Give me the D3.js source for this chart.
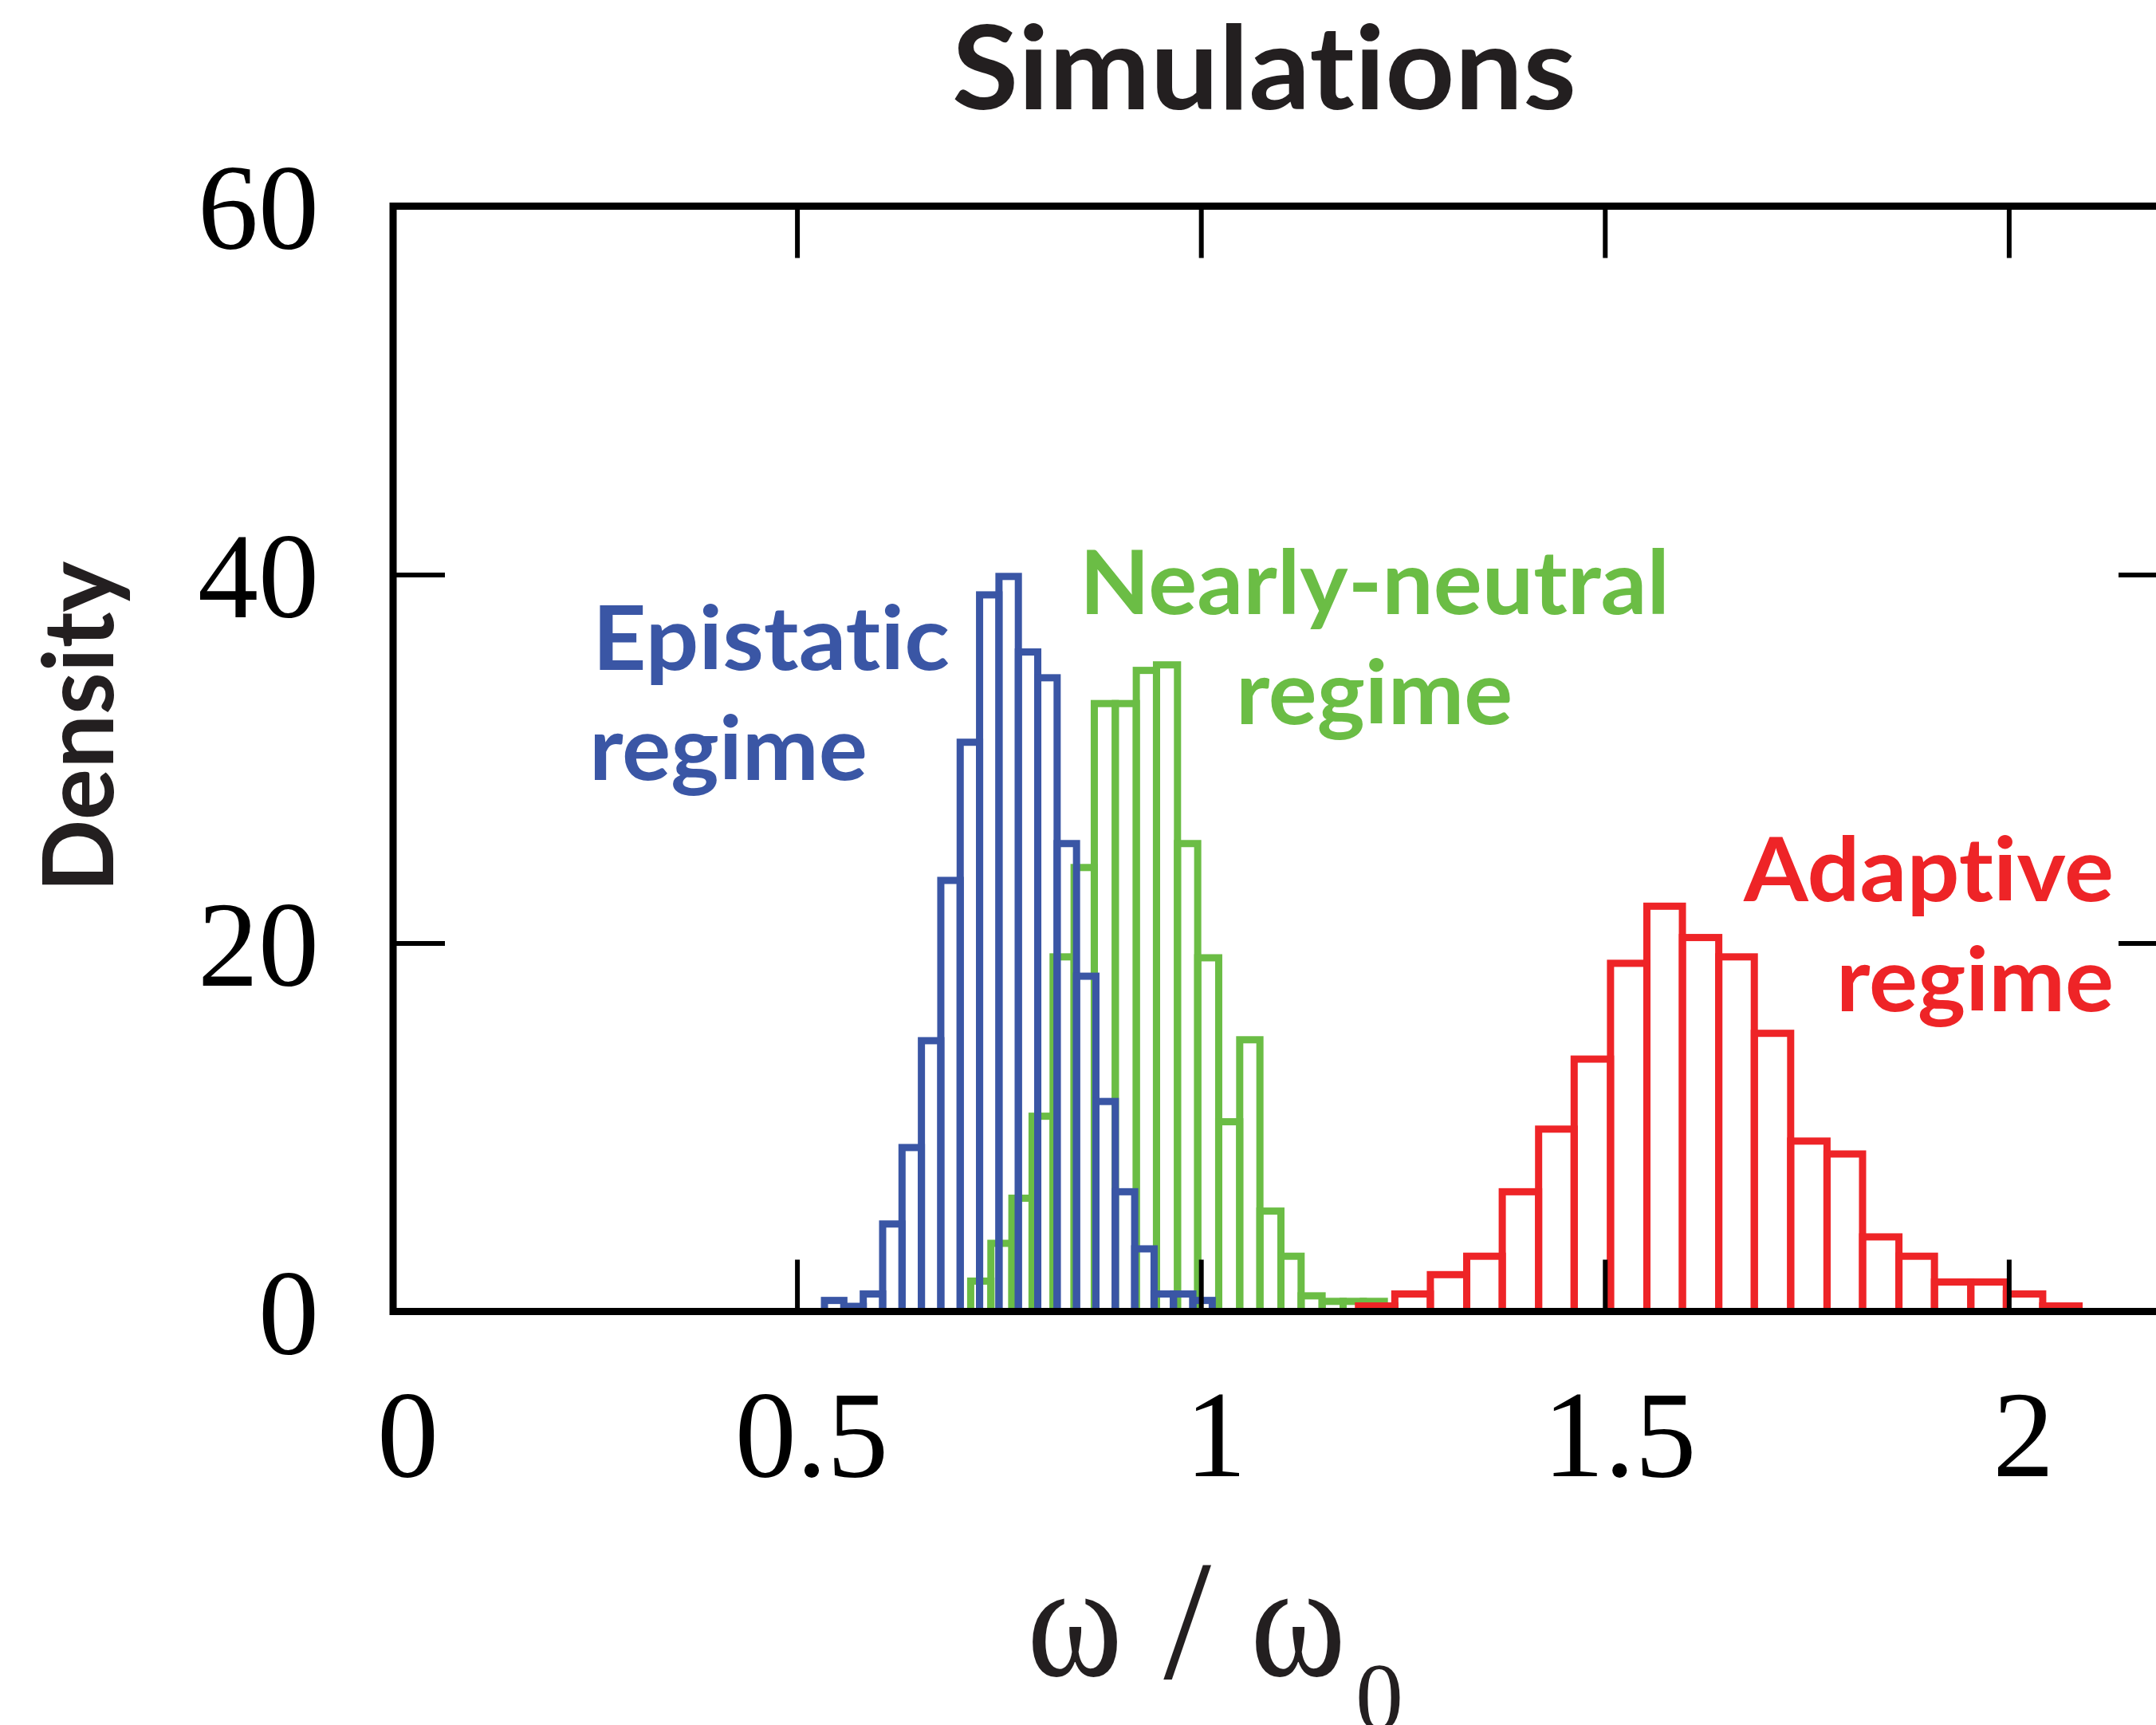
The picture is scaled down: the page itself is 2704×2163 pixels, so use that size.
<!DOCTYPE html>
<html>
<head>
<meta charset="utf-8">
<script src="https://cdn.jsdelivr.net/npm/d3@7"></script>
<style>
  html, body { margin: 0; padding: 0; background: #ffffff; }
  svg { display: block; }
  text { font-variant-ligatures: none; font-feature-settings: "liga" 0, "clig" 0; }
</style>
</head>
<body>
<div id="chart"></div>
<script>
// ---------- data ----------
const xTickValues = [0, 0.5, 1, 1.5, 2];
const xTickLabels = ["0", "0.5", "1", "1.5", "2"];
const yTickValues = [0, 20, 40, 60];
const yTickLabels = ["0", "20", "40", "60"];

// Epistatic regime (blue)
const epistaticEdges = [0.534, 0.558, 0.582, 0.606, 0.630, 0.654, 0.678, 0.702, 0.726, 0.750, 0.774,
                        0.798, 0.822, 0.846, 0.870, 0.894, 0.918, 0.942, 0.966, 0.990, 1.014];
const epistaticDensity = [0.6, 0.28, 0.95, 4.75, 8.9, 14.7, 23.4, 30.9, 38.9, 39.9,
                          35.8, 34.4, 25.4, 18.2, 11.4, 6.5, 3.4, 0.95, 0.95, 0.6];

// Nearly-neutral regime (green)
const neutralEdges = [0.715, 0.740, 0.766, 0.791, 0.817, 0.843, 0.868, 0.894, 0.920, 0.945, 0.971,
                      0.996, 1.022, 1.048, 1.073, 1.099, 1.124, 1.150, 1.176, 1.201, 1.227];
const neutralDensity = [1.65, 3.7, 6.15, 10.6, 19.25, 24.1, 33.0, 33.0, 34.8, 35.1,
                        25.4, 19.2, 10.3, 14.75, 5.45, 3.0, 0.85, 0.55, 0.55, 0.55];

// Adaptive regime (red)
const adaptiveEdges = [1.195, 1.240, 1.284, 1.329, 1.373, 1.418, 1.462, 1.507, 1.552, 1.596, 1.641,
                       1.685, 1.730, 1.775, 1.819, 1.864, 1.908, 1.953, 1.997, 2.042, 2.087];
const adaptiveDensity = [0.3, 0.95, 2.0, 3.0, 6.5, 9.9, 13.7, 18.9, 22.0, 20.3,
                         19.25, 15.1, 9.25, 8.55, 4.05, 3.0, 1.6, 1.6, 0.95, 0.3];

const seriesNames = ["Nearly-neutral", "Epistatic", "Adaptive"];

// ---------- layout ----------
const W = 2704, H = 2163;
const colors = { "Epistatic": "#3A56A5", "Nearly-neutral": "#6BBD45", "Adaptive": "#EE2427" };
const plot = { left: 493, right: 2722, top: 258.5, bottom: 1644.5 };

const svg = d3.select("#chart").append("svg")
  .attr("width", W).attr("height", H)
  .attr("viewBox", `0 0 ${W} ${H}`);

const x = d3.scaleLinear().domain([0, 2.2]).range([plot.left, plot.right]);
const y = d3.scaleLinear().domain([0, 60]).range([plot.bottom, plot.top]);

// ---------- histograms ----------
const seriesData = {
  "Epistatic": { edges: epistaticEdges, dens: epistaticDensity },
  "Nearly-neutral": { edges: neutralEdges, dens: neutralDensity },
  "Adaptive": { edges: adaptiveEdges, dens: adaptiveDensity }
};

seriesNames.forEach(name => {
  const s = seriesData[name];
  const bins = s.dens.map((d, i) => ({ x0: s.edges[i], x1: s.edges[i + 1], d }));
  svg.append("g").attr("class", "hist")
    .selectAll("rect").data(bins).join("rect")
    .attr("x", b => x(b.x0))
    .attr("width", b => x(b.x1) - x(b.x0))
    .attr("y", b => y(b.d))
    .attr("height", b => y(0) - y(b.d))
    .attr("fill", "none")
    .attr("stroke", colors[name])
    .attr("stroke-width", 9)
    .attr("stroke-linejoin", "miter");
});

// ---------- axes (inward ticks) ----------
const tickLen = 65;
const serif = "'Liberation Serif', 'Times New Roman', serif";

const gBottom = svg.append("g").attr("transform", `translate(0,${plot.bottom})`)
  .call(d3.axisBottom(x).tickValues(xTickValues).tickSize(-tickLen)
        .tickFormat((d, i) => xTickLabels[i]));
const gTop = svg.append("g").attr("transform", `translate(0,${plot.top})`)
  .call(d3.axisTop(x).tickValues(xTickValues).tickSize(-tickLen).tickFormat(""));
const gLeft = svg.append("g").attr("transform", `translate(${plot.left},0)`)
  .call(d3.axisLeft(y).tickValues(yTickValues).tickSize(-tickLen)
        .tickFormat((d, i) => yTickLabels[i]));
const gRight = svg.append("g").attr("transform", `translate(${plot.right},0)`)
  .call(d3.axisRight(y).tickValues(yTickValues).tickSize(-tickLen).tickFormat(""));

[gBottom, gTop, gLeft, gRight].forEach(g => {
  g.select(".domain").remove();
  g.selectAll(".tick line").attr("stroke", "#000").attr("stroke-width", 6);
});

gBottom.selectAll(".tick text")
  .attr("font-family", serif).attr("font-size", 154).attr("fill", "#000")
  .attr("x", 18).attr("y", 1851 - plot.bottom).attr("dy", null)
  .attr("text-anchor", "middle");
gLeft.selectAll(".tick text")
  .attr("font-family", serif).attr("font-size", 152).attr("fill", "#000")
  .attr("x", 400 - plot.left).attr("dy", null).attr("y", 53)
  .attr("text-anchor", "end");

// frame
svg.append("rect")
  .attr("x", plot.left).attr("y", plot.top)
  .attr("width", plot.right - plot.left).attr("height", plot.bottom - plot.top)
  .attr("fill", "none").attr("stroke", "#000").attr("stroke-width", 9);

// ---------- texts ----------
const sans = "Lato, 'Open Sans', 'DejaVu Sans', sans-serif";

function label(txt, x0, x1, baseline, size, color) {
  svg.append("text")
    .attr("x", x0).attr("y", baseline)
    .attr("font-family", sans).attr("font-weight", 700)
    .attr("font-size", size).attr("fill", color)
    .attr("textLength", x1 - x0).attr("lengthAdjust", "spacingAndGlyphs")
    .text(txt);
}

// title
label("Simulations", 1194, 1977, 137, 146, "#231F20");

// series annotations
label("Epistatic", 743, 1191, 840, 112, colors["Epistatic"]);
label("regime", 739, 1088, 978, 112, colors["Epistatic"]);
label("Nearly-neutral", 1354, 2094, 770, 112, colors["Nearly-neutral"]);
label("regime", 1550, 1897, 908, 112, colors["Nearly-neutral"]);
label("Adaptive", 2187, 2651, 1130, 112, colors["Adaptive"]);
label("regime", 2303, 2651, 1268, 112, colors["Adaptive"]);

// y-axis title
svg.append("text")
  .attr("transform", "translate(142,911.5) rotate(-90)")
  .attr("text-anchor", "middle")
  .attr("font-family", sans).attr("font-weight", 700)
  .attr("font-size", 123).attr("fill", "#231F20")
  .attr("textLength", 415).attr("lengthAdjust", "spacingAndGlyphs")
  .text("Density");

// x-axis title: ω / ω0
const xt = svg.append("g").attr("font-family", serif).attr("fill", "#231F20");
xt.append("text").attr("x", 1348).attr("y", 2101).attr("text-anchor", "middle")
  .attr("font-size", 205).attr("textLength", 120).attr("lengthAdjust", "spacingAndGlyphs").text("ω");
xt.append("text").attr("x", 1489).attr("y", 2104).attr("text-anchor", "middle")
  .attr("font-size", 215).text("/");
xt.append("text").attr("x", 1628).attr("y", 2101).attr("text-anchor", "middle")
  .attr("font-size", 205).attr("textLength", 120).attr("lengthAdjust", "spacingAndGlyphs").text("ω");
xt.append("text").attr("x", 1730).attr("y", 2169).attr("text-anchor", "middle")
  .attr("font-size", 120).text("0");
</script>
</body>
</html>
